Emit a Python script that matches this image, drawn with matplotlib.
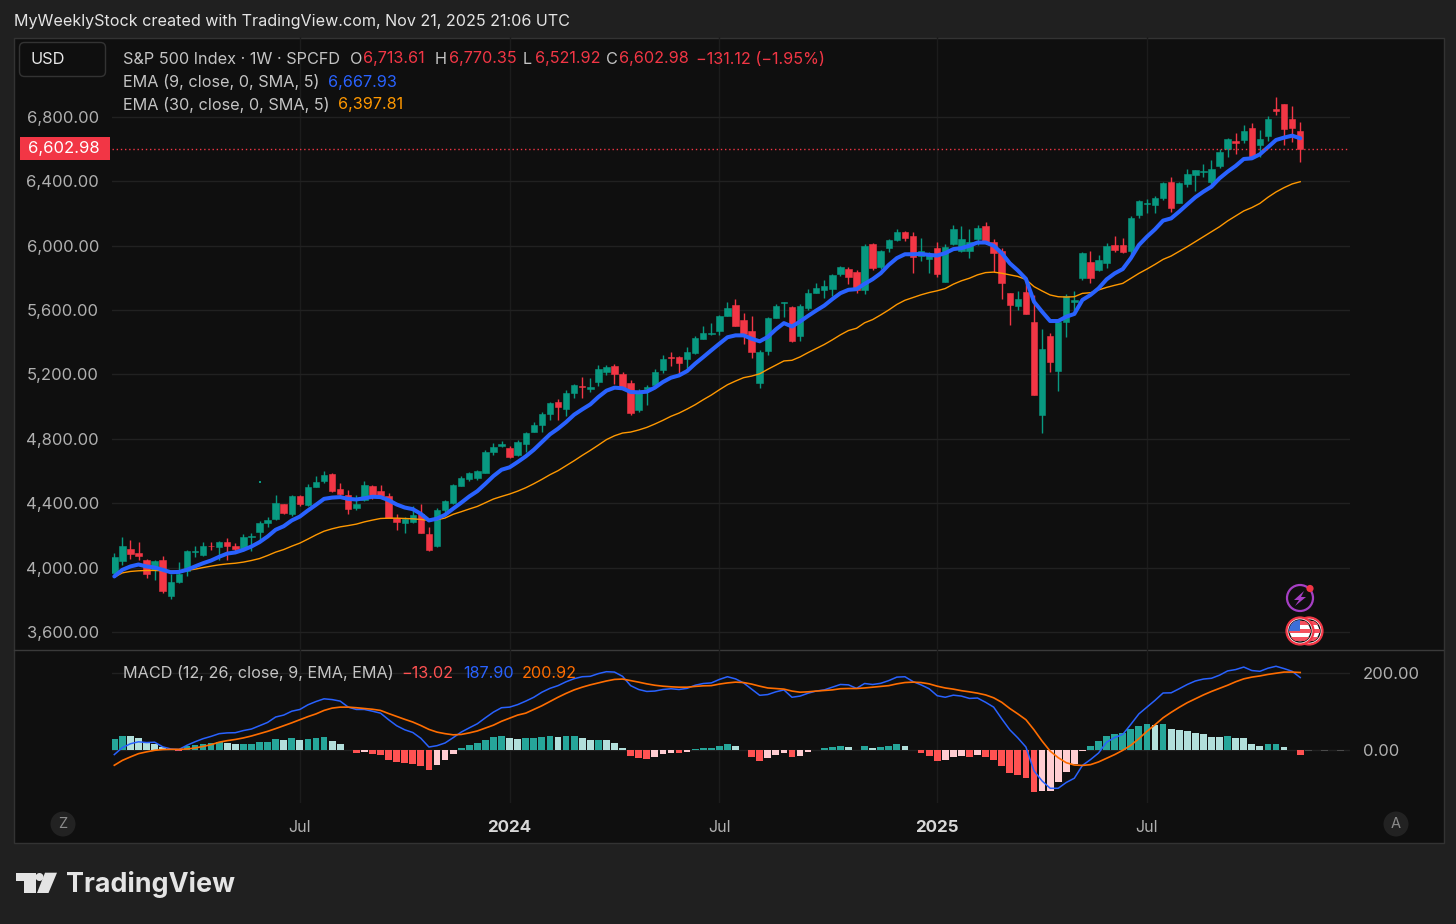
import numpy as np
import matplotlib
matplotlib.use("Agg")
import matplotlib.pyplot as plt
from matplotlib.patches import Circle, FancyBboxPatch, Polygon, Rectangle

# weekly S&P 500 candles
opens = [3967, 4042, 4116, 4092, 4048, 3988, 4048, 3826, 3909, 3976,
         4094, 4079, 4135, 4125, 4160, 4131, 4114, 4187, 4218, 4276,
         4299, 4392, 4336, 4446, 4386, 4502, 4535, 4583, 4489, 4454,
         4369, 4417, 4504, 4475, 4442, 4307, 4280, 4282, 4336, 4206,
         4131, 4359, 4401, 4509, 4548, 4558, 4587, 4718, 4753, 4743,
         4697, 4766, 4842, 4888, 4952, 5027, 4985, 5085, 5130, 5112,
         5151, 5213, 5255, 5205, 5147, 4981, 5112, 5136, 5226, 5306,
         5311, 5294, 5333, 5422, 5453, 5468, 5565, 5634, 5540, 5472,
         5147, 5344, 5551, 5641, 5622, 5440, 5610, 5709, 5724, 5734,
         5827, 5856, 5836, 5724, 6010, 5869, 5987, 6037, 6084, 6061,
         5937, 5916, 5983, 5775, 6012, 5968, 5970, 6043, 6124, 6022,
         5967, 5704, 5625, 5714, 5528, 4950, 5441, 5223, 5524, 5652,
         5801, 5899, 5849, 5891, 6004, 6004, 5967, 6191, 6259, 6251,
         6299, 6396, 6266, 6384, 6442, 6460, 6396, 6494, 6603, 6651,
         6657, 6734, 6626, 6684, 6848, 6881, 6786, 6713.61]
highs = [4090, 4193, 4172, 4156, 4052, 4044, 4073, 3957, 4036, 4110,
         4131, 4158, 4158, 4166, 4185, 4152, 4210, 4214, 4288, 4317,
         4448, 4396, 4454, 4450, 4520, 4572, 4603, 4589, 4525, 4485,
         4454, 4541, 4510, 4510, 4465, 4336, 4317, 4382, 4392, 4255,
         4370, 4417, 4521, 4567, 4596, 4608, 4732, 4776, 4788, 4753,
         4795, 4842, 4902, 4967, 5027, 5045, 5105, 5139, 5186, 5178,
         5257, 5261, 5263, 5217, 5163, 5110, 5136, 5234, 5321, 5337,
         5313, 5373, 5441, 5503, 5520, 5567, 5650, 5667, 5584, 5561,
         5354, 5557, 5638, 5651, 5624, 5637, 5732, 5767, 5784, 5823,
         5877, 5867, 5850, 6012, 6016, 5974, 6043, 6103, 6090, 6084,
         6051, 5964, 6022, 6010, 6126, 6124, 6103, 6128, 6146, 6041,
         5984, 5706, 5719, 5793, 5694, 5480, 5458, 5530, 5700, 5719,
         5959, 5969, 5942, 6015, 6060, 6050, 6183, 6282, 6290, 6311,
         6394, 6425, 6394, 6479, 6473, 6506, 6533, 6599, 6670, 6701,
         6750, 6765, 6721, 6806, 6922, 6883, 6869, 6770.35]
lows = [3951, 4013, 4056, 4044, 3938, 3922, 3841, 3804, 3907, 3947,
        4065, 4069, 4108, 4044, 4044, 4092, 4106, 4102, 4164, 4255,
        4297, 4336, 4322, 4380, 4384, 4500, 4525, 4471, 4438, 4334,
        4355, 4413, 4425, 4438, 4309, 4235, 4216, 4278, 4212, 4102,
        4127, 4345, 4393, 4505, 4540, 4546, 4585, 4697, 4749, 4681,
        4695, 4716, 4840, 4840, 4915, 4915, 4940, 5054, 5054, 5089,
        5128, 5199, 5143, 5105, 4948, 4967, 5008, 5130, 5209, 5255,
        5192, 5240, 5329, 5418, 5443, 5443, 5561, 5499, 5391, 5302,
        5116, 5323, 5549, 5560, 5402, 5411, 5601, 5705, 5678, 5688,
        5809, 5763, 5705, 5697, 5852, 5856, 5964, 6032, 6030, 5831,
        5902, 5829, 5807, 5773, 6005, 5964, 5925, 6005, 6010, 5836,
        5667, 5505, 5598, 5574, 5070, 4834, 5217, 5099, 5435, 5590,
        5785, 5768, 5843, 5862, 5961, 5953, 5942, 6174, 6201, 6203,
        6284, 6210, 6263, 6365, 6342, 6429, 6363, 6481, 6549, 6570,
        6641, 6547, 6554, 6653, 6813, 6626, 6647, 6521.92]
closes = [4065, 4131, 4083, 4071, 3961, 4040, 3853, 3913, 3961, 4104,
          4104, 4131, 4131, 4160, 4131, 4116, 4187, 4199, 4276, 4293,
          4402, 4342, 4446, 4392, 4500, 4529, 4576, 4473, 4456, 4363,
          4396, 4510, 4450, 4444, 4311, 4282, 4301, 4324, 4214, 4110,
          4355, 4411, 4511, 4556, 4589, 4600, 4718, 4751, 4768, 4689,
          4780, 4836, 4886, 4952, 5020, 4996, 5083, 5134, 5124, 5120,
          5232, 5248, 5201, 5114, 4958, 5097, 5122, 5217, 5298, 5300,
          5271, 5342, 5424, 5460, 5460, 5561, 5611, 5501, 5453, 5340,
          5342, 5549, 5625, 5649, 5405, 5626, 5705, 5736, 5751, 5815,
          5865, 5807, 5726, 5997, 5862, 5970, 6034, 6088, 6049, 5933,
          5968, 5941, 5825, 5995, 6101, 6041, 6022, 6113, 6014, 5952,
          5770, 5632, 5667, 5576, 5072, 5360, 5279, 5528, 5687, 5663,
          5957, 5797, 5911, 5998, 5971, 5959, 6172, 6278, 6264, 6297,
          6388, 6232, 6388, 6446, 6469, 6465, 6479, 6583, 6663, 6641,
          6713, 6552, 6661, 6788, 6837, 6728, 6734, 6602.98]

ema9 = [3945, 3986, 4007, 4019, 4007, 4000, 3986, 3971, 3973, 3986,
        4007, 4027, 4044, 4067, 4087, 4094, 4110, 4131, 4158, 4193,
        4235, 4257, 4293, 4317, 4355, 4390, 4427, 4435, 4438, 4427,
        4423, 4431, 4440, 4438, 4419, 4392, 4373, 4363, 4334, 4293,
        4304, 4328, 4366, 4403, 4442, 4475, 4521, 4569, 4608, 4623,
        4656, 4691, 4732, 4780, 4828, 4863, 4904, 4950, 4983, 5014,
        5060, 5099, 5118, 5114, 5091, 5089, 5093, 5118, 5153, 5180,
        5194, 5221, 5267, 5308, 5350, 5391, 5431, 5443, 5443, 5422,
        5406, 5433, 5480, 5519, 5498, 5529, 5564, 5597, 5628, 5668,
        5705, 5726, 5730, 5763, 5792, 5829, 5881, 5923, 5947, 5947,
        5949, 5943, 5939, 5954, 5979, 5985, 6000, 6020, 6020, 6000,
        5954, 5891, 5846, 5794, 5652, 5590, 5532, 5532, 5559, 5576,
        5663, 5694, 5735, 5791, 5828, 5855, 5922, 6004, 6056, 6102,
        6156, 6170, 6212, 6257, 6301, 6336, 6367, 6419, 6460, 6496,
        6539, 6543, 6568, 6612, 6657, 6672, 6684, 6667.93]
ema30 = [3940, 3967, 3976, 3980, 3982, 3982, 3980, 3978, 3978, 3982,
         3990, 4000, 4009, 4017, 4023, 4027, 4034, 4044, 4056, 4075,
         4096, 4112, 4133, 4152, 4177, 4203, 4226, 4241, 4253, 4261,
         4270, 4284, 4295, 4305, 4307, 4307, 4305, 4303, 4299, 4293,
         4297, 4308, 4331, 4347, 4364, 4380, 4403, 4426, 4442, 4457,
         4475, 4496, 4521, 4548, 4577, 4602, 4633, 4664, 4697, 4728,
         4761, 4795, 4819, 4836, 4842, 4855, 4871, 4892, 4915, 4940,
         4960, 4985, 5012, 5043, 5072, 5105, 5136, 5159, 5180, 5190,
         5204, 5232, 5258, 5284, 5288, 5309, 5336, 5361, 5386, 5415,
         5446, 5473, 5487, 5521, 5541, 5570, 5601, 5635, 5661, 5678,
         5695, 5709, 5720, 5734, 5761, 5782, 5798, 5819, 5833, 5836,
         5829, 5819, 5809, 5790, 5746, 5719, 5694, 5683, 5681, 5683,
         5704, 5708, 5725, 5741, 5754, 5766, 5797, 5828, 5855, 5884,
         5915, 5936, 5965, 5994, 6025, 6056, 6087, 6118, 6154, 6185,
         6216, 6237, 6263, 6301, 6334, 6361, 6384, 6397.81]

macd_hist = [30, 37, 36, 33, 21, 17, 9, 3.5, -1.5, 10,
             13, 17, 18, 22, 19, 15.5, 16, 17, 21, 22,
             29, 27.5, 31, 27.5, 30, 31, 33.5, 25, 15.5, 2,
             -7, -4, -9.5, -12, -24, -31, -33.5, -34.3, -41, -50,
             -38, -26, -10, 5, 13, 19, 27.5, 34, 36, 31,
             28, 31, 33, 34, 38, 34, 36, 36.5, 33, 26,
             27.5, 26, 18, 7, -15, -20, -21.5, -18, -9.5, -7,
             -8, -3.5, 3.5, 7, 7.2, 12, 17, 10, 2, -16,
             -26.5, -20, -11, -6, -18, -14.5, -5, 2, 5, 8.5,
             12, 8, 2, 10, 6, 8, 12, 15.5, 12, 2,
             -8, -15.5, -27.5, -26, -16, -15.5, -18, -13, -18, -26,
             -41, -59, -65, -72, -107, -105.5, -105, -82, -55, -36,
             -2.5, 10, 24, 38, 41, 44, 54, 64, 67, 65,
             68, 54, 51.5, 50.5, 46, 41, 34, 33.9, 36, 33,
             31, 17, 12, 15.5, 17, 8, 2, -13.02]
macd_line = [-11, 7, 17, 22, 20, 21, 9, 3.5, 2, 13,
             22, 30, 36, 43, 45, 45.5, 51, 55, 63.5, 72,
             86, 91, 101, 105.5, 117.5, 126, 133, 131, 127, 111.5,
             105.5, 105.5, 101, 96, 79, 63.5, 53, 46, 31, 8.5,
             12, 19, 32.6, 47, 58, 68.6, 84, 98.7, 110, 111.5,
             118, 127, 137, 150, 160, 167, 177, 185, 190, 191,
             198, 203, 202, 191, 167, 157, 152, 153, 157, 159,
             157, 160, 168, 172.5, 174, 183, 190, 184.5, 174, 158,
             142, 144, 151, 156, 137, 140, 147.5, 153, 156, 163,
             170, 169, 160, 172.5, 170, 173, 180, 189, 190, 177.6,
             169, 159, 141, 137, 142.4, 140, 134, 135, 124, 111.5,
             81.5, 53, 32, 8.5, -53, -79, -98, -98, -83, -72,
             -39, -24, -7, 21, 33, 41, 67, 94, 111.5, 129,
             148, 148.5, 159, 170, 179, 184, 186, 194, 205, 208.5,
             215, 206, 204, 212, 217, 211, 204, 187.9]
macd_signal = [-38.6, -26, -17, -8.6, -4, 0, 2, 2.6, 2.6, 3.4,
               6, 10, 14.6, 21, 25, 28, 32, 37, 43, 49,
               56, 63.5, 71, 79, 87, 94, 103, 109, 111.5, 111.5,
               110, 108, 106, 103, 95, 87.5, 80, 73, 64, 54,
               47, 43, 40, 41, 45, 50, 57.5, 65, 75, 83,
               91, 96, 105.5, 115, 126, 137, 147, 156, 163, 169,
               174, 179, 183, 184, 180, 176, 171.6, 168, 165.6, 164,
               163, 163, 165, 166.5, 167, 171, 174, 176, 175, 171,
               165.6, 161, 159.6, 158, 153, 150, 151, 153, 154.4, 156,
               159, 159.6, 159.6, 161, 163, 165, 167, 171.6, 175, 176,
               175, 171.6, 165.6, 161, 158, 154, 151, 147.6, 143, 135.6,
               124, 108, 94, 79, 53, 24, -2, -19, -32, -38,
               -39, -37, -30, -20.6, -11, 0, 13, 30, 49, 66,
               84, 98, 111, 123, 133, 143, 152, 160, 168, 177,
               184.5, 189, 192, 196, 199, 202, 202, 200.92]

price_ticks = [3600, 4000, 4400, 4800, 5200, 5600, 6000, 6400, 6800]
macd_ticks = [0, 200]
time_ticks = [23, 49, 75, 102, 128]
time_labels = ["Jul", "2024", "Jul", "2025", "Jul"]
last_price = 6602.98

BG = "#202020"
PANEL = "#0f0f0f"
GRID = "#212121"
VGRID = "#1c1c1c"
BORDER = "#333333"
UP = "#089981"
DOWN = "#f23645"
TXT = "#c4c4c4"
AXTXT = "#b0b0b0"
BLUE = "#2962ff"
ORANGE = "#ff9800"
FONT = "Inter"
W, H = 1456, 924

plt.rcParams["font.family"] = [FONT, "DejaVu Sans"]

fig = plt.figure(figsize=(W / 100, H / 100), dpi=100, facecolor=BG)


def px_axes(left, top, right, bottom, z=1):
    a = fig.add_axes([left / W, 1 - bottom / H, (right - left) / W, (bottom - top) / H], zorder=z)
    a.patch.set_alpha(0)
    return a


# backdrop in pixel coordinates
back = px_axes(0, 0, W, H, z=0)
back.set_xlim(0, W)
back.set_ylim(H, 0)
back.axis("off")
back.add_patch(Rectangle((13.5, 37.5), 1430, 805, fc=PANEL, ec=BORDER, lw=1))
back.plot([13.5, 1443], [649.5, 649.5], color="#3a3a3a", lw=1)

weeks = np.arange(len(closes))
o = np.array(opens)
c = np.array(closes)
colors = [UP if cl >= op else DOWN for op, cl in zip(opens, closes)]

x_left = -0.285
x_right = 153.17

# price pane
ax = px_axes(112, 37, 1350, 649)
ax.set_xlim(x_left, x_right)
ax.set_ylim(3494, 7297)
ax.vlines(weeks, lows, highs, colors=colors, lw=1, zorder=3)
ax.bar(weeks, np.abs(c - o), bottom=np.minimum(o, c), width=0.8, color=colors, edgecolor=colors, lw=0.4, zorder=4)
ax.plot(weeks, ema30, color=ORANGE, lw=1, zorder=5)
ax.plot(weeks, ema9, color=BLUE, lw=2.9, zorder=6, solid_capstyle="round")
ax.axhline(last_price, color=DOWN, lw=1, ls=(0, (1, 2)), zorder=7)
ax.set_yticks(price_ticks)
ax.set_yticklabels([f"{t:,.2f}" for t in price_ticks], color=AXTXT, fontsize=12)
ax.set_xticks(time_ticks)
ax.tick_params(axis="y", length=0, pad=9.4)
ax.tick_params(axis="x", length=0, labelbottom=False)
ax.grid(True, axis="y", color=GRID, lw=1)
ax.grid(True, axis="x", color=VGRID, lw=1)
ax.set_axisbelow(True)
for s in ax.spines.values():
    s.set_visible(False)

# macd pane
ax2 = px_axes(112, 650, 1350, 803)
ax2.set_xlim(x_left, x_right)
ax2.set_ylim(-136, 259)
hist_colors = []
for i, v in enumerate(macd_hist):
    prev = macd_hist[i - 1] if i else v - 1
    if v >= 0:
        hist_colors.append("#26a69a" if v > prev else "#b2dfdb")
    else:
        hist_colors.append("#ffcdd2" if v > prev else "#ff5252")
ax2.bar(weeks, macd_hist, width=0.84, color=hist_colors, zorder=3)
ax2.bar([148, 150, 152], [-1, -1, -1], width=0.84, color="#4a4a4a", zorder=3)
ax2.plot(weeks, macd_line, color=BLUE, lw=1.1, zorder=4)
ax2.plot(weeks, macd_signal, color="#ff6d00", lw=1.2, zorder=5)
ax2.yaxis.tick_right()
ax2.set_yticks(macd_ticks)
ax2.set_yticklabels([f"{t:,.2f}" for t in macd_ticks], color=AXTXT, fontsize=12)
ax2.set_xticks(time_ticks)
ax2.set_xticklabels(time_labels, color=AXTXT, fontsize=11.5)
for lab, txt in zip(ax2.get_xticklabels(), time_labels):
    if txt.startswith("20"):
        lab.set_fontweight("bold")
        lab.set_fontsize(12.2)
        lab.set_color("#d8d8d8")
ax2.tick_params(axis="y", length=0, pad=9.4)
ax2.tick_params(axis="x", length=0, pad=12.5)
ax2.grid(True, axis="y", color=GRID, lw=1)
ax2.grid(True, axis="x", color=VGRID, lw=1)
ax2.set_axisbelow(True)
for s in ax2.spines.values():
    s.set_visible(False)

# overlay: text and icons in pixel coordinates
top = px_axes(0, 0, W, H, z=5)
top.set_xlim(0, W)
top.set_ylim(H, 0)
top.axis("off")


def label(x, y, s, color=TXT, size=11.7, **kw):
    top.text(x, y + 1, s, color=color, fontsize=size, va="center", ha=kw.pop("ha", "left"), **kw)


label(14, 20.5, "MyWeeklyStock created with TradingView.com, Nov 21, 2025 21:06 UTC", color="#e4e4e4", size=11.6)

top.add_patch(FancyBboxPatch((19.5, 42.5), 86, 34, boxstyle="round,pad=0,rounding_size=5", fc=PANEL, ec="#333333", lw=1))
label(31, 59, "USD", color="#e8e8e8", size=11.8)

label(123, 58, "S&P 500 Index · 1W · SPCFD")
label(350, 58, "O")
label(363, 58, "6,713.61", color=DOWN)
label(435, 58, "H")
label(449, 58, "6,770.35", color=DOWN)
label(523, 58, "L")
label(535, 58, "6,521.92", color=DOWN)
label(606, 58, "C")
label(619, 58, "6,602.98", color=DOWN)
label(696, 58, "−131.12 (−1.95%)", color=DOWN)
label(123, 81, "EMA (9, close, 0, SMA, 5)")
label(328, 81, "6,667.93", color=BLUE)
label(123, 104, "EMA (30, close, 0, SMA, 5)")
label(338, 104, "6,397.81", color=ORANGE)
label(123, 672, "MACD (12, 26, close, 9, EMA, EMA)")
label(401, 672, "−13.02", color="#ff5252")
label(463, 672, "187.90", color=BLUE)
label(522, 672, "200.92", color="#ff6d00")

# last price tag
top.add_patch(Rectangle((20, 137), 90, 23, fc=DOWN, ec="none"))
label(64, 147.5, "6,602.98", color="white", size=12, ha="center")

# Z / A buttons
for cx, letter in [(63, "Z"), (1396, "A")]:
    top.add_patch(Circle((cx, 824), 12.5, fc="#222222", ec="none"))
    label(cx, 823.5, letter, color="#8a8a8a", size=10.5, ha="center")

# stray pixel next to the first candles
top.add_patch(Rectangle((259, 481), 2, 2, fc=UP, ec="none"))

# lightning badge
top.add_patch(Circle((1300, 598), 13, fc=PANEL, ec="#a63fc4", lw=1.6))
top.add_patch(Polygon([(1304, 591), (1294, 600), (1299, 600), (1295, 606), (1306, 597), (1301, 597)], fc="#a63fc4", ec="none"))
top.add_patch(Circle((1310, 588.5), 3.6, fc=DOWN, ec="none"))

# flag badges
for cx in (1309, 1300):
    ring = Circle((cx, 631), 13.5, fc="white", ec=DOWN, lw=1.6)
    top.add_patch(ring)
    inner = Circle((cx, 631), 11, fc="white", ec=PANEL, lw=1)
    top.add_patch(inner)
    for k in range(3):
        stripe = Rectangle((cx - 12, 621 + k * 8), 24, 3.8, fc="#f4515e", ec="none")
        top.add_patch(stripe)
        stripe.set_clip_path(inner)
    if cx == 1300:
        canton = Rectangle((cx - 12, 620), 12, 10.5, fc="#3d6fd8", ec="none")
        top.add_patch(canton)
        canton.set_clip_path(inner)

# TradingView logo
top.add_patch(Polygon([(16, 872.7), (36, 872.7), (36, 893), (24, 893), (24, 881), (16, 881)], fc="#e4e4e4", ec="none"))
top.add_patch(Circle((39.5, 877), 4, fc="#e4e4e4", ec="none"))
top.add_patch(Polygon([(45, 872.7), (57, 872.7), (48.5, 893), (37, 893)], fc="#e4e4e4", ec="none"))
label(66, 883, "TradingView", color="#e4e4e4", size=19.4, fontweight="bold")

fig.savefig("out.png", dpi=100, facecolor=BG)
